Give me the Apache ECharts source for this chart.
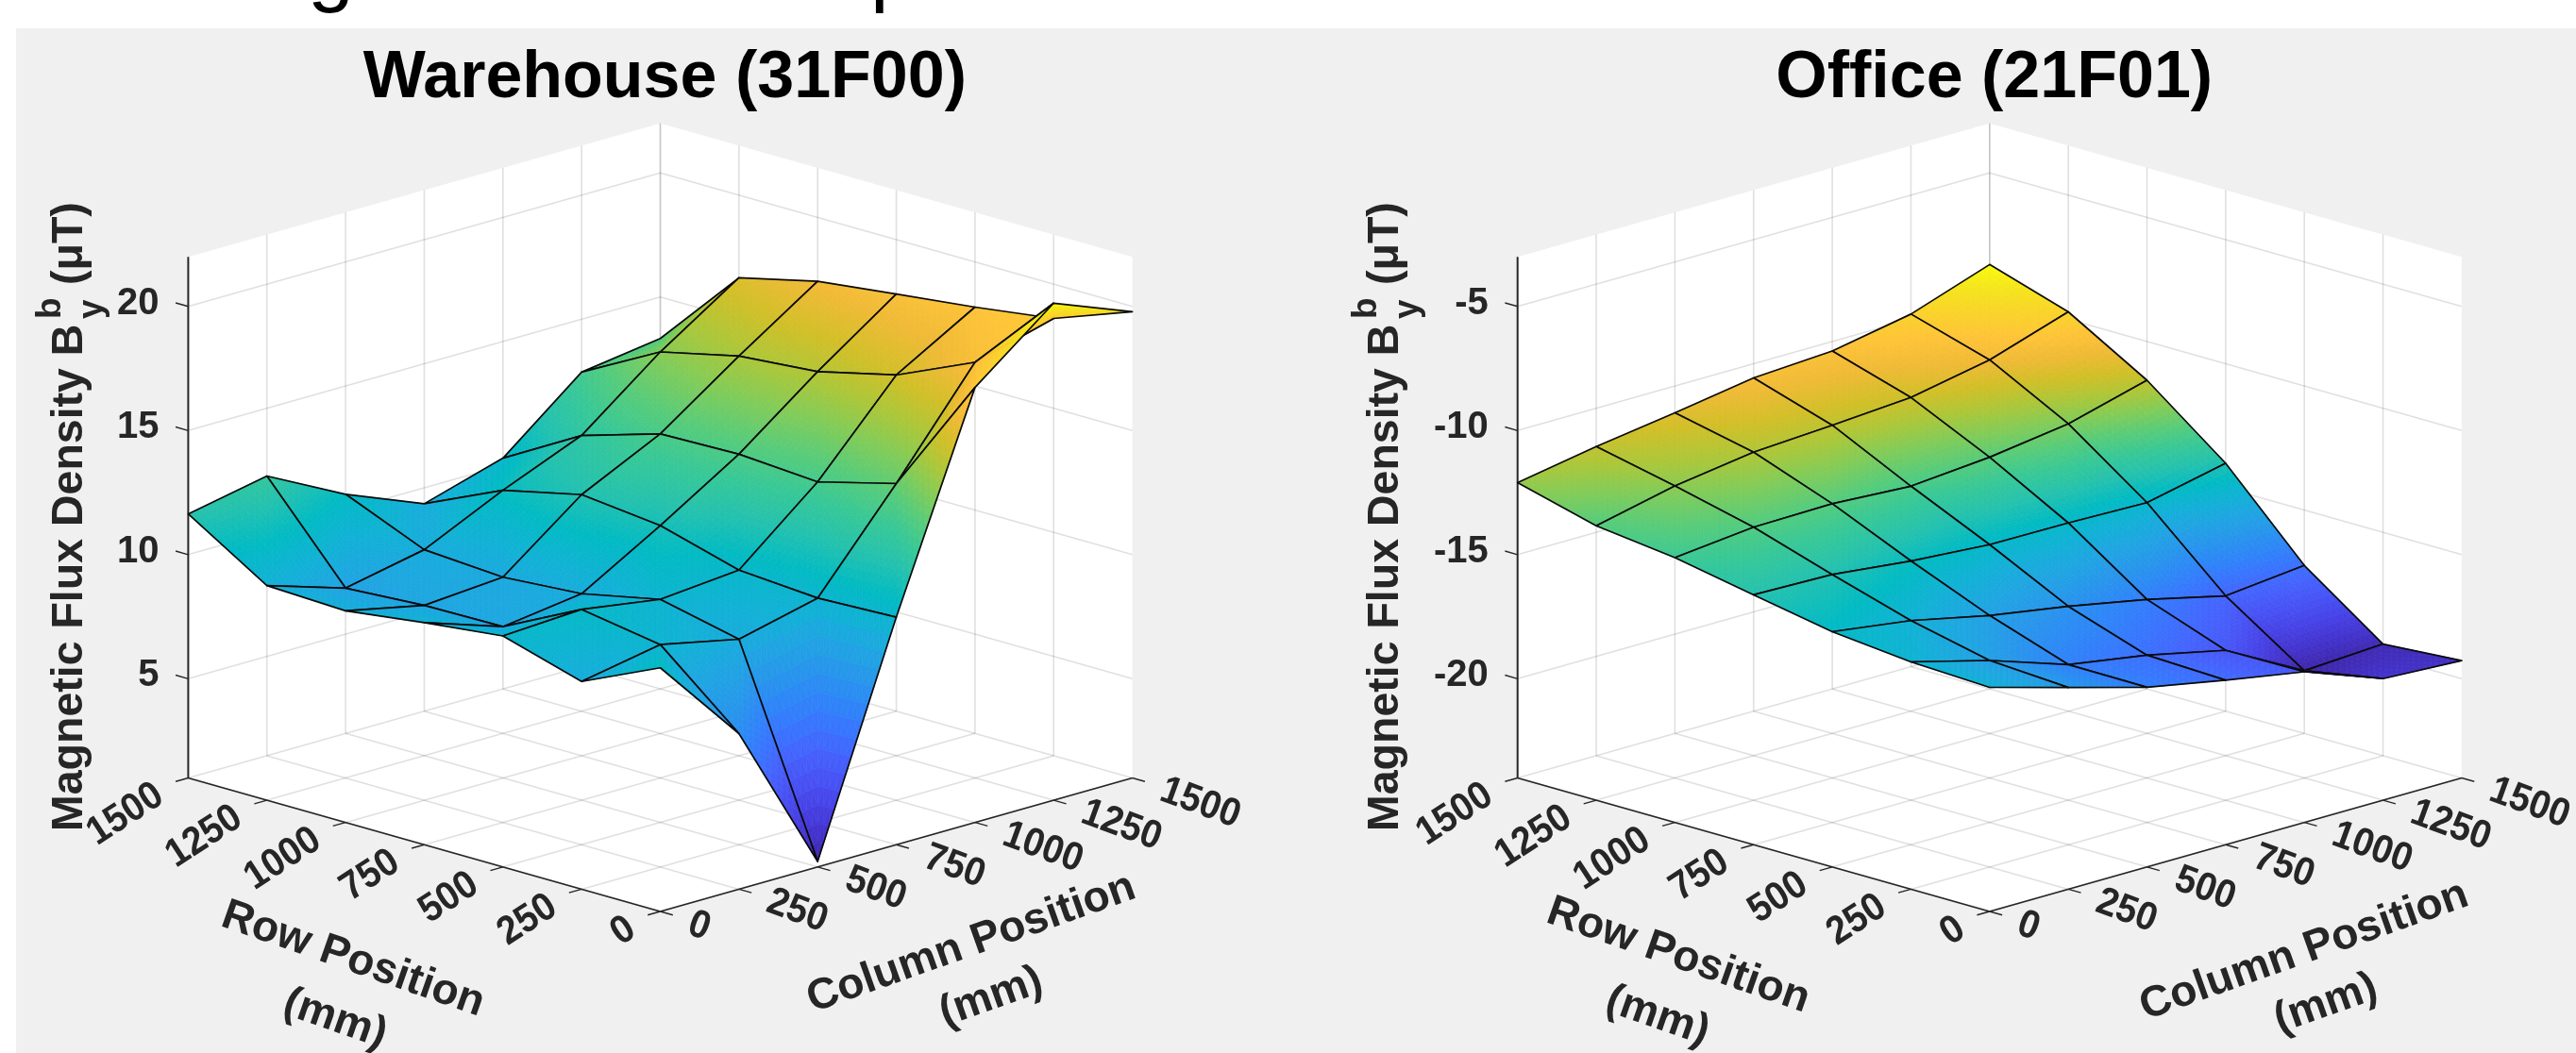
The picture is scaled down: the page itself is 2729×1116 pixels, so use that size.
<!DOCTYPE html>
<html><head><meta charset="utf-8">
<style>html,body{margin:0;padding:0;background:#fff}#c{width:2729px;height:1116px}</style>
<script src="https://cdn.jsdelivr.net/npm/echarts@6/dist/echarts.min.js"></script>
</head><body><div id="c"></div>
<script>
const rowPositions=[0,250,500,750,1000,1250,1500];
const columnPositions=[0,250,500,750,1000,1250,1500];
// rows: rowPositions, columns: columnPositions (microtesla)
const warehouseValues=[
[10.82,7.27,1.22,10.17,18.53,21.03,19.79],
[9.37,9.96,9.28,10.04,13.76,17.75,18.62],
[10.31,10.48,9.99,10.27,12.93,16.34,18.18],
[9.95,8.89,9.32,11.17,13.15,15.58,17.81],
[9.53,8.85,9.09,11.52,13.07,15.31,17.43],
[9.65,8.65,9.30,10.80,12.11,14.58,16.67],
[11.64,12.27,10.64,9.36,10.30,12.87,13.33]];
const officeValues=[
[-14.97,-15.87,-16.76,-17.37,-17.93,-19.10,-19.27],
[-14.84,-15.68,-16.74,-17.26,-17.96,-19.68,-19.50],
[-14.52,-14.97,-15.66,-16.19,-16.81,-17.56,-17.23],
[-13.93,-14.01,-14.36,-14.60,-14.62,-14.70,-14.01],
[-13.33,-13.00,-12.95,-13.14,-12.87,-12.42,-11.56],
[-12.94,-12.23,-11.77,-11.58,-11.36,-10.74,-9.70],
[-12.10,-11.54,-11.08,-10.57,-10.38,-9.79,-8.69]];
const warehouseZTicks=[5,10,15,20];
const officeZTicks=[-20,-15,-10,-5];
const warehouseZLimits=[1,22];
const officeZLimits=[-24,-3];
const parula=[[.2422,.1504,.6603],[.2647,.1978,.7952],[.2783,.2559,.8991],[.281,.3228,.9579],[.2699,.3892,.9906],[.2206,.4603,.9973],[.1786,.5289,.9682],[.154,.5902,.9218],[.1248,.6459,.8883],[.0689,.6948,.8394],[.0067,.7312,.766],[.1408,.7584,.6842],[.2161,.7843,.5923],[.3406,.8008,.4789],[.5044,.7993,.348],[.672,.7793,.2227],[.8203,.7498,.1535],[.9393,.7288,.21],[.997,.7659,.2199],[.9789,.8271,.1633],[.9589,.8949,.1132],[.9763,.9831,.0538]];

const FONT='"Liberation Sans",Arial,sans-serif';
const INK='#262626';
const DEPTH=10.76/3000, ZSPAN=21;
const DEG=Math.PI/180;
function colour(t){t=Math.max(0,Math.min(1,t))*(parula.length-1);const i=Math.min(parula.length-2,Math.floor(t)),f=t-i;const c=parula[i].map((v,k)=>Math.round((v+(parula[i+1][k]-v)*f)*255));return `rgb(${c[0]},${c[1]},${c[2]})`;}
function projector(api,zLow){return (col,row,z)=>api.coord([col-row,(col+row)*DEPTH+(z-zLow)]);}
function label(text,x,y,size,rot,align,squeeze){return {type:'text',x,y,rotation:rot*DEG,scaleX:squeeze||1,silent:true,style:{text,fill:INK,font:`bold ${size}px ${FONT}`,align:align,verticalAlign:'middle'}};}
function line(a,b,stroke,w){return {type:'line',silent:true,shape:{x1:a[0],y1:a[1],x2:b[0],y2:b[1]},style:{stroke,lineWidth:w,lineCap:'butt'}};}

function frameRenderer(p){return function(params,api){
  const P=projector(api,p.zLim[0]),zLo=p.zLim[0],zHi=p.zLim[1];
  const maxC=1500,maxR=1500,kids=[];
  kids.push({type:'polygon',silent:true,shape:{points:[P(0,maxR,zLo),P(0,maxR,zHi),P(maxC,maxR,zHi),P(maxC,0,zHi),P(maxC,0,zLo),P(0,0,zLo)]},style:{fill:'#fff'}});
  const G='rgba(38,38,38,0.14)',GW=1.6;
  columnPositions.forEach(c=>{kids.push(line(P(c,0,zLo),P(c,maxR,zLo),G,GW));if(c>0)kids.push(line(P(c,maxR,zLo),P(c,maxR,zHi),G,GW));});
  rowPositions.forEach(r=>{kids.push(line(P(0,r,zLo),P(maxC,r,zLo),G,GW));if(r>0)kids.push(line(P(maxC,r,zLo),P(maxC,r,zHi),G,GW));});
  p.zTicks.forEach(z=>{kids.push(line(P(0,maxR,z),P(maxC,maxR,z),G,GW));kids.push(line(P(maxC,maxR,z),P(maxC,0,z),G,GW));});
  // axis rules
  kids.push(line(P(0,maxR,zLo),P(0,maxR,zHi),INK,2));
  kids.push(line(P(0,0,zLo),P(0,maxR,zLo),INK,1.8));
  kids.push(line(P(0,0,zLo),P(maxC,0,zLo),INK,1.8));
  rowPositions.forEach(r=>{const a=P(0,r,zLo);kids.push(line(a,P(-40,r,zLo),INK,1.4));
    kids.push(label(String(r),a[0]-30,a[1]+15,42,33,'right',0.93));});
  columnPositions.forEach(c=>{const a=P(c,0,zLo);kids.push(line(a,P(c,-40,zLo),INK,1.4));
    kids.push(label(String(c),a[0]+31,a[1]+12,42,-20,'left',0.93));});
  p.zTicks.forEach(z=>{const a=P(0,maxR,z);kids.push(line(a,P(0,maxR+40,z),INK,1.4));
    kids.push(label(String(z),a[0]-31,a[1]-3,40,0,'right'));});
  // axis titles
  const ylx=p.yLabelX;
  kids.push(label('Magnetic Flux Density B',ylx,881,46.5,90,'left'));
  kids.push(label('b',ylx-20,338,37,90,'left'));
  kids.push(label('y',ylx+24,338,37,90,'left'));
  kids.push(label('(\u03bcT)',ylx,302,46.5,90,'left'));
  p.axisTitles.forEach(t=>kids.push(label(t[0],t[1],t[2],46,t[3],'center')));
  return {type:'group',children:kids};
};}

function surfaceRenderer(p){const N=14;
  const flat=p.values.flat(),lo=Math.min(...flat),hi=Math.max(...flat);
  return function(params,api){
    const P=projector(api,p.zLim[0]),ci=api.value(0),rj=api.value(1),V=p.values;
    const c0=columnPositions[ci],c1=columnPositions[ci+1],r0=rowPositions[rj],r1=rowPositions[rj+1];
    const near=[c0,r0,V[rj][ci]],far=[c1,r1,V[rj+1][ci+1]],right=[c1,r0,V[rj][ci+1]],left=[c0,r1,V[rj+1][ci]];
    const kids=[];
    [[near,right,far],[near,left,far]].forEach(tri=>{
      const at=(a,b)=>{const w=1-a-b;return [0,1,2].map(k=>tri[0][k]*w+tri[1][k]*a+tri[2][k]*b);};
      const xy=q=>P(q[0],q[1],q[2]);
      const emit=(q1,q2,q3)=>{const f=colour(((q1[2]+q2[2]+q3[2])/3-lo)/(hi-lo));
        kids.push({type:'polygon',silent:true,shape:{points:[xy(q1),xy(q2),xy(q3)]},style:{fill:f,stroke:f,lineWidth:0.7}});};
      for(let a=0;a<N;a++)for(let b=0;b<N-a;b++){
        emit(at(a/N,b/N),at((a+1)/N,b/N),at(a/N,(b+1)/N));
        if(a+b<N-1)emit(at((a+1)/N,b/N),at((a+1)/N,(b+1)/N),at(a/N,(b+1)/N));
      }
    });
    kids.push({type:'polygon',silent:true,shape:{points:[near,right,far,left].map(q=>P(q[0],q[1],q[2]))},style:{fill:'none',stroke:'#0a0a0a',lineWidth:1.7,lineJoin:'round'}});
    return {type:'group',children:kids};
  };
}

const cells=[];
for(let j=5;j>=0;j--)for(let i=5;i>=0;i--)cells.push([i,j]);
cells.sort((a,b)=>(b[0]+b[1])-(a[0]+a[1]));

const panels=[
 {name:'Warehouse (31F00)',values:warehouseValues,zTicks:warehouseZTicks,zLim:warehouseZLimits,left:199.4,yLabelX:74,
  axisTitles:[['Row Position',374,1017,-19.3],['(mm)',355,1080,-19.3],['Column Position',1029,1000,19.5],['(mm)',1050,1057,19.5]]},
 {name:'Office (21F01)',values:officeValues,zTicks:officeZTicks,zLim:officeZLimits,left:1607.7,yLabelX:1468,
  axisTitles:[['Row Position',1778,1013,-19.3],['(mm)',1756,1077,-19.3],['Column Position',2441,1008,19.5],['(mm)',2464,1064,19.5]]}];

const chart=echarts.init(document.getElementById('c'),null,{renderer:'canvas'});
chart.setOption({
  animation:false,backgroundColor:'#fff',
  title:panels.map(p=>({text:p.name,left:p.left+500,top:44,textAlign:'center',textStyle:{fontFamily:FONT,fontWeight:'bold',fontSize:70,color:'#000'}})),
  graphic:[
    {type:'rect',z:0,silent:true,shape:{x:17,y:30,width:2712,height:1086},style:{fill:'#f0f0f0'}},
    {type:'text',z:1,x:326,y:-72,silent:true,style:{text:'g',fill:'#000',font:`88px ${FONT}`}},
    {type:'text',z:1,x:922,y:-72,silent:true,style:{text:'p',fill:'#000',font:`88px ${FONT}`}}
  ],
  grid:panels.map(p=>({left:p.left,width:1000.2,top:130.7,height:835.3})),
  xAxis:panels.map((p,i)=>({type:'value',gridIndex:i,min:-1500,max:1500,show:false})),
  yAxis:panels.map((p,i)=>({type:'value',gridIndex:i,min:0,max:10.76+ZSPAN,show:false})),
  series:panels.flatMap((p,i)=>[
    {type:'custom',xAxisIndex:i,yAxisIndex:i,z:2,silent:true,progressive:0,data:[[0,0]],renderItem:frameRenderer(p)},
    {type:'custom',name:p.name,xAxisIndex:i,yAxisIndex:i,z:3,silent:true,progressive:0,data:cells,renderItem:surfaceRenderer(p)}
  ])
});
</script></body></html>
